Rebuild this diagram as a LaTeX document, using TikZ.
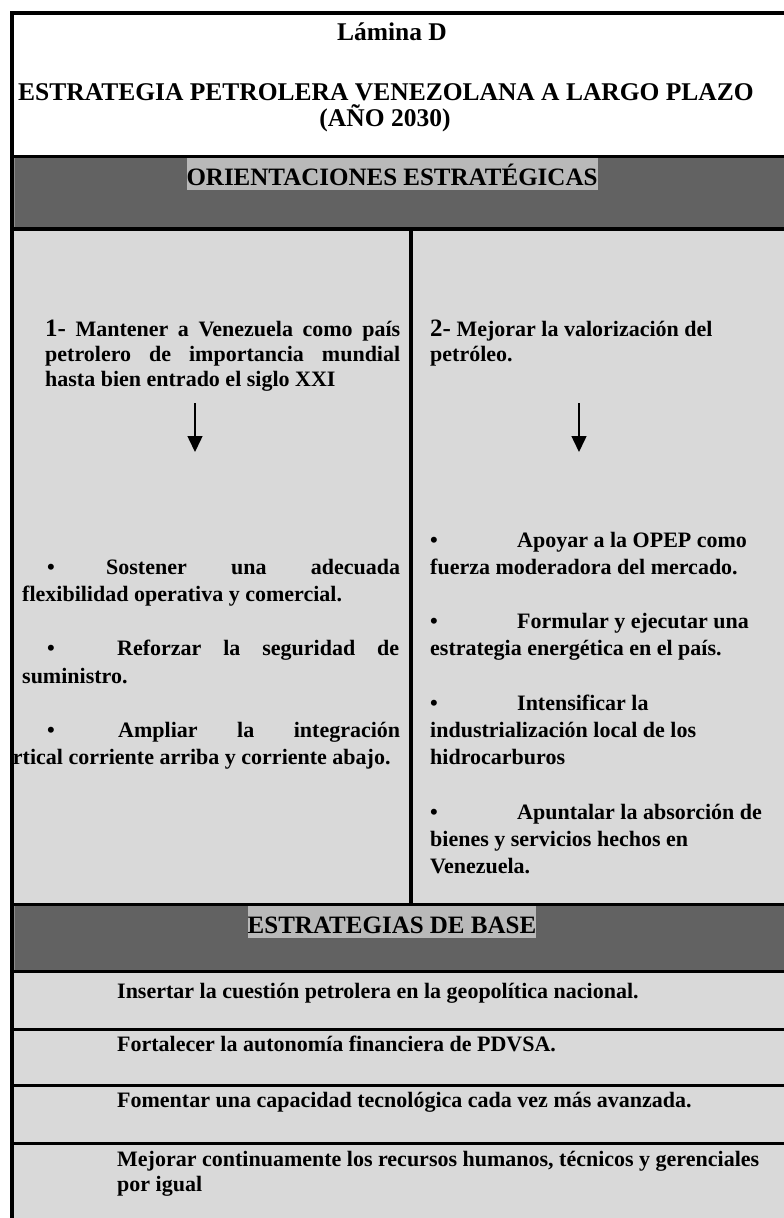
\documentclass[tikz,border=0pt]{standalone}
\usepackage{fontspec}
\setmainfont{Liberation Serif}
\usetikzlibrary{arrows.meta}
\definecolor{bandgray}{RGB}{98,98,98}
\definecolor{cellgray}{RGB}{217,217,217}
\definecolor{hlgray}{RGB}{185,185,185}
\definecolor{edgegray}{RGB}{140,140,140}
\newcommand{\bodyf}{\fontsize{22}{27}\selectfont\bfseries}
\newcommand{\headf}{\fontsize{25}{30}\selectfont\bfseries}
\newcommand{\titlef}{\fontsize{25.5}{30}\selectfont\bfseries}
\begin{document}
\begin{tikzpicture}[x=1pt,y=-1pt,
  txt/.style={inner sep=0pt, anchor=base west, font=\bodyf},
  ttl/.style={inner sep=0pt, anchor=base, font=\titlef},
  hl/.style={fill=hlgray, inner xsep=0pt, inner ysep=0pt, text height=27pt, text depth=5pt, anchor=base, font=\headf},
  rule/.style={line width=3.5pt, black},
  frame/.style={line width=4pt, black},
  arr/.style={line width=1.5pt, -{Triangle[width=15pt,length=16pt]}},
  bul/.style={inner sep=0pt, anchor=base west, font=\bodyf}]
\useasboundingbox (0,0) rectangle (784,1218);
% fills
\fill[bandgray] (14,158) rectangle (784,227);
\fill[cellgray] (14,231) rectangle (784,903);
\fill[bandgray] (14,906) rectangle (784,970);
\fill[cellgray] (14,973) rectangle (784,1218);
\draw[edgegray, line width=1pt] (14.5,158) -- (14.5,227);
\draw[edgegray, line width=1pt] (14.5,906) -- (14.5,970);
% title
\node[ttl] (lamina) at (392,40) {Lámina D};
\node[ttl] (title1) at (386,100) {ESTRATEGIA PETROLERA VENEZOLANA A LARGO PLAZO};
\node[ttl] (title2) at (385,126) {(AÑO 2030)};
% band headings
\node[hl] (orient) at (392,185) {ORIENTACIONES ESTRATÉGICAS};
\node[hl] (base) at (392,933) {ESTRATEGIAS DE BASE};
% left column
\node[txt] (l1a) at (45,336) {\makebox[355pt][s]{{\headf 1-} Mantener a Venezuela como país}};
\node[txt] (l1b) at (45,361) {\makebox[355pt][s]{petrolero de importancia mundial}};
\node[txt] (l1c) at (45,386) {hasta bien entrado el siglo XXI};
\coordinate (la1) at (195,403);
\coordinate (la2) at (195,452);
\draw[arr] (la1) -- (la2);
\node[bul] (lb1) at (47,574.2) {•};
\node[txt] (l2a) at (106,574.2) {\makebox[294pt][s]{Sostener una adecuada}};
\node[txt] (l2b) at (22,601.4) {flexibilidad operativa y comercial.};
\node[bul] (lb2) at (47,655.8) {•};
\node[txt] (l3a) at (117,655.8) {\makebox[282pt][s]{Reforzar la seguridad de}};
\node[txt] (l3b) at (22,683) {suministro.};
\node[bul] (lb3) at (47,737.4) {•};
\node[txt] (l4a) at (118,737.4) {\makebox[282pt][s]{Ampliar la integración}};
\begin{scope}
\clip (14,231) rectangle (409,903);
\node[txt] (l4b) at (-8,764.6) {vertical corriente arriba y corriente abajo.};
\end{scope}
% right column
\node[txt] (r1a) at (430,336) {{\headf 2-} Mejorar la valorización del};
\node[txt] (r1b) at (430,361) {petróleo.};
\coordinate (ra1) at (579,403);
\coordinate (ra2) at (579,452);
\draw[arr] (ra1) -- (ra2);
\node[bul] (rb1) at (430,547) {•};
\node[txt] (r2a) at (517,547) {Apoyar a la OPEP como};
\node[txt] (r2b) at (430,574.2) {fuerza moderadora del mercado.};
\node[bul] (rb2) at (430,628.6) {•};
\node[txt] (r3a) at (517,628.6) {Formular y ejecutar una};
\node[txt] (r3b) at (430,655.8) {estrategia energética en el país.};
\node[bul] (rb3) at (430,710.2) {•};
\node[txt] (r4a) at (517,710.2) {Intensificar la};
\node[txt] (r4b) at (430,737.4) {industrialización local de los};
\node[txt] (r4c) at (430,764.6) {hidrocarburos};
\node[bul] (rb4) at (430,819) {•};
\node[txt] (r5a) at (517,819) {Apuntalar la absorción de};
\node[txt] (r5b) at (430,846.2) {bienes y servicios hechos en};
\node[txt] (r5c) at (430,873.4) {Venezuela.};
% base strategies
\node[txt] (s1) at (117,998) {Insertar la cuestión petrolera en la geopolítica nacional.};
\node[txt] (s2) at (117,1051) {Fortalecer la autonomía financiera de PDVSA.};
\node[txt] (s3) at (117,1107) {Fomentar una capacidad tecnológica cada vez más avanzada.};
\node[txt] (s4a) at (117,1166) {Mejorar continuamente los recursos humanos, técnicos y gerenciales};
\node[txt] (s4b) at (117,1191) {por igual};
% rules
\draw[rule] (12,156.5) -- (784,156.5);
\draw[rule] (12,229) -- (784,229);
\draw[frame] (411,229) -- (411,904.5);
\draw[rule] (12,904.5) -- (784,904.5);
\draw[rule] (12,971.5) -- (784,971.5);
\draw[rule] (12,1029.5) -- (784,1029.5);
\draw[rule] (12,1085.5) -- (784,1085.5);
\draw[rule] (12,1143.5) -- (784,1143.5);
\draw[frame] (10,13) -- (784,13);
\draw[frame] (12,11) -- (12,1218);
\end{tikzpicture}
\end{document}
